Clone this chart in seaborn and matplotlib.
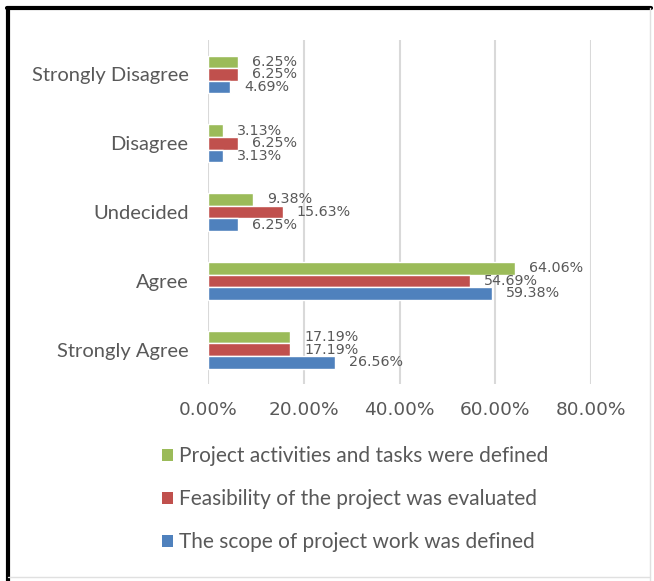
import matplotlib
matplotlib.use('Agg')
import matplotlib.pyplot as plt
import seaborn as sns
import pandas as pd
from matplotlib.lines import Line2D
from matplotlib.patches import Patch

categories = ["Strongly Disagree", "Disagree", "Undecided", "Agree", "Strongly Agree"]
series = ["Project activities and tasks were defined",
          "Feasibility of the project was evaluated",
          "The scope of project work was defined"]
activities = [6.25, 3.13, 9.38, 64.06, 17.19]
feasibility = [6.25, 6.25, 15.63, 54.69, 17.19]
scope = [4.69, 3.13, 6.25, 59.38, 26.56]
colors = ["#9BBB59", "#C0504D", "#4F81BD"]
x_ticks = [0, 20, 40, 60, 80]

rows = []
for name, vals in zip(series, [activities, feasibility, scope]):
    for cat, v in zip(categories, vals):
        rows.append({"category": cat, "series": name, "value": v})
df = pd.DataFrame(rows)

sns.set_style("white")
text_col = "#595959"

fig = plt.figure(figsize=(6.54, 5.81), dpi=100)
ax = fig.add_axes([0.318, 0.339, 0.586, 0.592])

sns.barplot(data=df, y="category", x="value", hue="series", order=categories,
            hue_order=series, palette=colors, orient="h", width=0.55,
            saturation=1, legend=False, ax=ax)

for cont in ax.containers:
    ax.bar_label(cont, labels=[f"{b.get_width():.2f}%" for b in cont],
                 padding=10, fontsize=10.3, color=text_col, family="DejaVu Sans")

ax.set_xlim(0, 80)
ax.set_xticks(x_ticks)
ax.set_xticklabels([f"{t:.2f}%" for t in x_ticks], family="DejaVu Sans",
                   fontsize=13.3, color=text_col)
ax.tick_params(axis="x", length=0, pad=12)
ax.tick_params(axis="y", length=0, pad=14)
for lab in ax.get_yticklabels():
    lab.set_family("Lato")
    lab.set_fontsize(14.5)
    lab.set_color(text_col)
ax.set_xlabel("")
ax.set_ylabel("")
ax.grid(axis="x", color="#D9D9D9", linewidth=1.5)
ax.set_axisbelow(True)
for s in ax.spines.values():
    s.set_visible(False)

handles = [Patch(facecolor=c, edgecolor="none") for c in colors]
fig.legend(handles, series, loc="upper left", bbox_to_anchor=(0.235, 0.246),
           frameon=False, borderaxespad=0, handlelength=0.55, handleheight=0.55,
           handletextpad=0.25, labelspacing=1.1,
           prop={"family": "Lato", "size": 15}, labelcolor=text_col)

# frame around the picture
fig.add_artist(Line2D([0.012, 0.012], [0.0, 0.987], transform=fig.transFigure,
                      color="black", linewidth=3))
fig.add_artist(Line2D([0.011, 0.995], [0.986, 0.986], transform=fig.transFigure,
                      color="black", linewidth=3))
fig.add_artist(Line2D([0.994, 0.994], [0.0, 0.986], transform=fig.transFigure,
                      color="#E0E0E0", linewidth=1))
fig.add_artist(Line2D([0.012, 0.994], [0.007, 0.007], transform=fig.transFigure,
                      color="#E0E0E0", linewidth=1))

fig.savefig("out.png", dpi=100)
